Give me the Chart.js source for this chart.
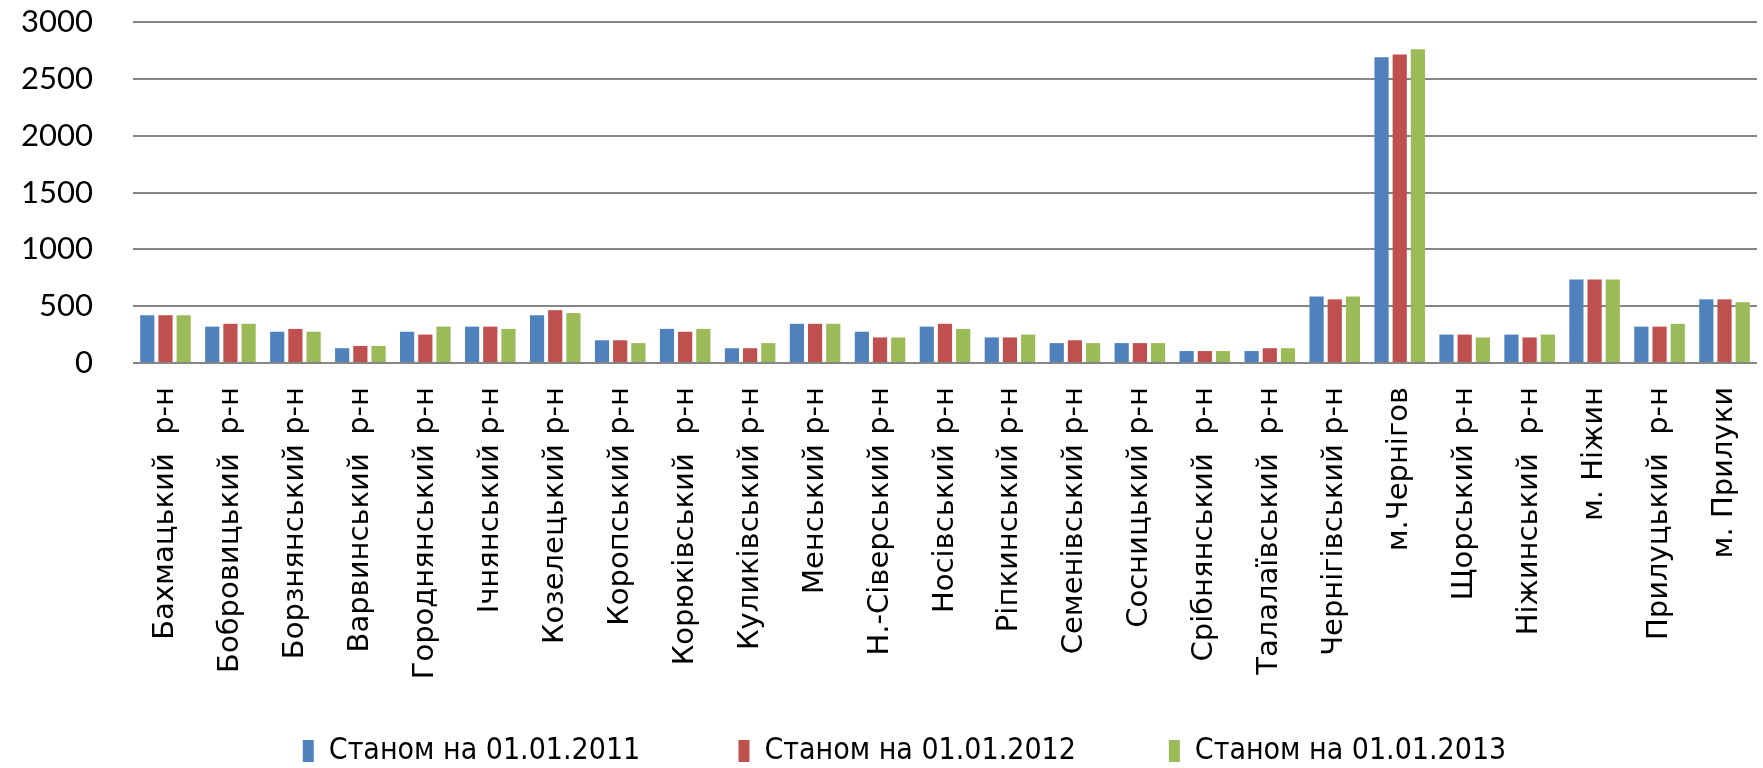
<!DOCTYPE html>
<html>
<head>
<meta charset="utf-8">
<script src="https://cdn.jsdelivr.net/npm/chart.js@4/dist/chart.umd.min.js"></script>
<style>
  html, body { margin: 0; padding: 0; background: #fff; }
</style>
</head>
<body>
<canvas id="myChart" width="1763" height="768"></canvas>
<script>
// районы и города области
var xValues = [
  "Бахмацький  р-н", "Бобровицький  р-н", "Борзнянський р-н", "Варвинський  р-н",
  "Городнянський р-н", "Ічнянський р-н", "Козелецький р-н", "Коропський р-н",
  "Корюківський  р-н", "Куликівський р-н", "Менський р-н", "Н.-Сіверський р-н",
  "Носівський р-н", "Ріпкинський р-н", "Семенівський р-н", "Сосницький р-н",
  "Срібнянський  р-н", "Талалаївський  р-н", "Чернігівський р-н", "м.Чернігов",
  "Щорський р-н", "Ніжинський  р-н", "м. Ніжин", "Прилуцький  р-н", "м. Прилуки"
];

var y2011 = [420, 320, 275, 130, 275, 320, 420, 200, 300, 130, 345, 275, 320, 225, 175, 175, 105, 105, 585, 2690, 250, 250, 735, 320, 560];
var y2012 = [420, 345, 300, 150, 250, 320, 465, 200, 275, 130, 345, 225, 345, 225, 200, 175, 105, 130, 560, 2715, 250, 225, 735, 320, 560];
var y2013 = [420, 345, 275, 150, 320, 300, 440, 175, 300, 175, 345, 225, 300, 250, 175, 175, 105, 130, 585, 2760, 225, 250, 735, 345, 535];

var seriesNames = ["Станом на 01.01.2011", "Станом на 01.01.2012", "Станом на 01.01.2013"];
var barColors = ["#4F81BD", "#C0504D", "#9BBB59"];

var yTicks = [0, 500, 1000, 1500, 2000, 2500, 3000];

// пробелы после подписей легенды задают расстояние между элементами
var legendGaps = ["\u2003\u2003\u2003\u2004\u2009", "\u2003\u2003\u2003\u2004", "\u2003\u2003\u2002\u2005\u2005"];

new Chart("myChart", {
  type: "bar",
  data: {
    labels: xValues,
    datasets: [
      { label: seriesNames[0], data: y2011, backgroundColor: barColors[0] },
      { label: seriesNames[1], data: y2012, backgroundColor: barColors[1] },
      { label: seriesNames[2], data: y2013, backgroundColor: barColors[2] }
    ]
  },
  options: {
    responsive: false,
    animation: false,
    layout: { padding: { top: 22, right: 6, left: 0, bottom: -8 } },
    datasets: {
      bar: { categoryPercentage: 0.84, barPercentage: 0.78 }
    },
    plugins: {
      tooltip: { enabled: false },
      legend: {
        position: "bottom",
        fullSize: false,
        labels: {
          boxWidth: 11,
          boxHeight: 22,
          padding: 3,
          color: "#000",
          font: { family: "'Liberation Sans Narrow', 'DejaVu Sans Condensed', sans-serif", size: 30 },
          generateLabels: function (chart) {
            var items = Chart.defaults.plugins.legend.labels.generateLabels(chart);
            items.forEach(function (it, i) { it.text = it.text + legendGaps[i]; });
            return items;
          }
        }
      }
    },
    scales: {
      x: {
        grid: { display: false, drawTicks: false },
        border: { display: false },
        ticks: {
          minRotation: 90, maxRotation: 90, autoSkip: false, padding: 24,
          color: "#000",
          font: { family: "'DejaVu Sans', sans-serif", size: 29 }
        },
        afterFit: function (scale) {
          scale.height = 370;
          scale.paddingLeft = 0;
          scale.paddingRight = 0;
        }
      },
      y: {
        min: 0, max: 3000,
        afterBuildTicks: function (scale) {
          scale.ticks = yTicks.map(function (v) { return { value: v }; });
        },
        grid: { color: "#868686", lineWidth: 2, drawTicks: false },
        border: { display: false },
        ticks: {
          padding: 40,
          color: "#000",
          font: { family: "Lato, sans-serif", size: 31 },
          callback: function (v) { return String(v); }
        },
        afterFit: function (scale) {
          scale.width = 133;
          scale.paddingTop = 0;
          scale.paddingBottom = 0;
        }
      }
    }
  }
});
</script>
</body>
</html>
